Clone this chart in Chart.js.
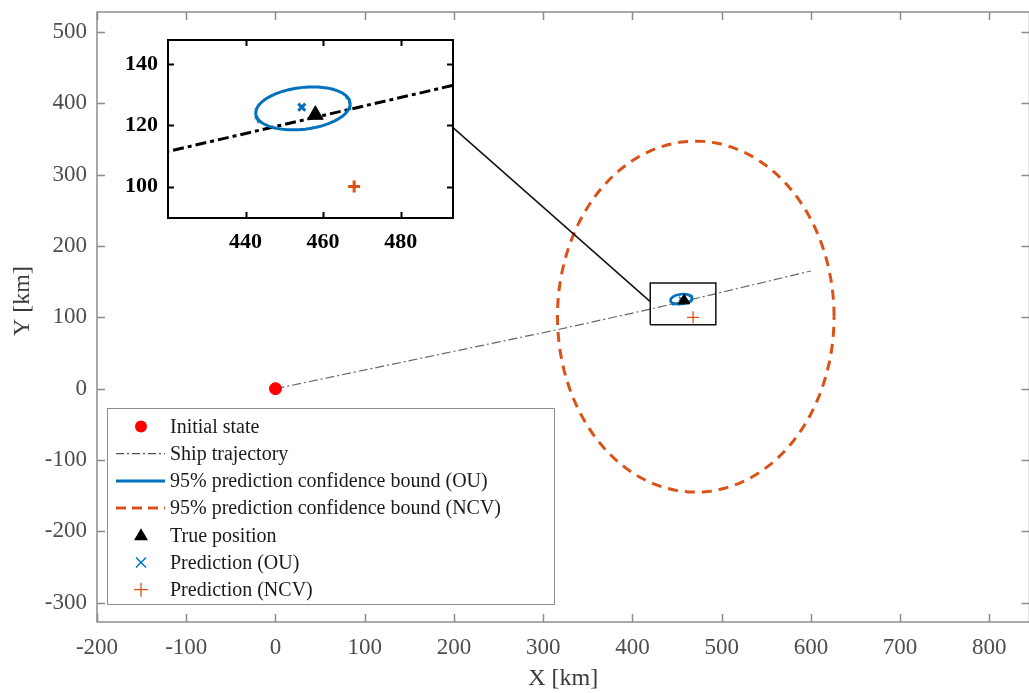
<!DOCTYPE html>
<html>
<head>
<meta charset="utf-8">
<script src="https://cdn.jsdelivr.net/npm/chart.js@4.4.1/dist/chart.umd.min.js"></script>
<style>
  body { margin: 0; background: #fff; overflow: hidden; }
  #wrap { position: relative; width: 1029px; height: 693px; overflow: hidden; }
  #main { position: absolute; left: 0; top: 0; }
  #inset { position: absolute; left: 100px; top: 30px; }
</style>
</head>
<body>
<div id="wrap">
  <!-- a little wider than the window: the right edge of the axes is cut off in the figure -->
  <canvas id="main" width="1037" height="693"></canvas>
  <canvas id="inset" width="370" height="230"></canvas>
</div>
<script>
// data (km)
const initialState = [0, 0];
const trajectoryX = [0, 317, 420, 493, 600];
const trajectoryY = [0, 83, 111.5, 133, 165];
const truePosition = [458, 123.5];
const predictionOU = [454.5, 126];
const predictionNCV = [468, 100];
// ellipse: centre x, centre y, semi-axis x, semi-axis y, tilt (deg)
const ouEllipse = [454.8, 125.6, 12.3, 6.8, 10];
const ncvEllipse = [471, 101, 155, 246, 0];
// zoom window and the line joining it to the inset
const insetXRange = [420, 493.5];
const insetYRange = [89.7, 148];
const connectorX = [198, 420];
const connectorY = [367, 122];

const xTicks = [-200, -100, 0, 100, 200, 300, 400, 500, 600, 700, 800];
const yTicks = [-300, -200, -100, 0, 100, 200, 300, 400, 500];
const insetXTicks = [440, 460, 480];
const insetYTicks = [100, 120, 140];
const legendLabels = [
  "Initial state",
  "Ship trajectory",
  "95% prediction confidence bound (OU)",
  "95% prediction confidence bound (NCV)",
  "True position",
  "Prediction (OU)",
  "Prediction (NCV)"
];

const BLUE = "#0072BD";
const ORANGE = "#D95319";
const SERIF = "'Liberation Serif', 'Times New Roman', serif";

function ellipsePoints(e) {
  const pts = [];
  const a = e[4] * Math.PI / 180;
  for (let i = 0; i <= 120; i++) {
    const t = i / 120 * 2 * Math.PI;
    const dx = e[2] * Math.cos(t), dy = e[3] * Math.sin(t);
    pts.push({ x: e[0] + dx * Math.cos(a) - dy * Math.sin(a), y: e[1] + dx * Math.sin(a) + dy * Math.cos(a) });
  }
  return pts;
}

const trajectory = trajectoryX.map((x, i) => ({ x: x, y: trajectoryY[i] }));
const zoomBox = [
  { x: insetXRange[0], y: insetYRange[0] }, { x: insetXRange[1], y: insetYRange[0] },
  { x: insetXRange[1], y: insetYRange[1] }, { x: insetXRange[0], y: insetYRange[1] },
  { x: insetXRange[0], y: insetYRange[0] }
];
const connector = connectorX.map((x, i) => ({ x: x, y: connectorY[i] }));

// box around the axes with inward ticks on every side
const framePlugin = {
  id: "frame",
  beforeDraw(chart) {
    const a = chart.chartArea, ctx = chart.ctx;
    ctx.save();
    ctx.fillStyle = "#fff";
    ctx.fillRect(a.left, a.top, a.right - a.left, a.bottom - a.top);
    ctx.restore();
  },
  afterDatasetsDraw(chart, args, opts) {
    const a = chart.chartArea, ctx = chart.ctx;
    const xs = chart.scales.x, ys = chart.scales.y;
    ctx.save();
    ctx.strokeStyle = opts.color;
    ctx.lineWidth = opts.width;
    ctx.setLineDash([]);
    ctx.strokeRect(a.left, a.top, a.right - a.left, a.bottom - a.top);
    ctx.beginPath();
    opts.xTicks.forEach(v => {
      const p = Math.round(xs.getPixelForValue(v)) + 0.5;
      ctx.moveTo(p, a.bottom); ctx.lineTo(p, a.bottom - opts.len);
      ctx.moveTo(p, a.top); ctx.lineTo(p, a.top + opts.len);
    });
    opts.yTicks.forEach(v => {
      const p = Math.round(ys.getPixelForValue(v)) + 0.5;
      ctx.moveTo(a.left, p); ctx.lineTo(a.left + opts.len, p);
      ctx.moveTo(a.right, p); ctx.lineTo(a.right - opts.len, p);
    });
    ctx.stroke();
    if (opts.yTitle) {
      ctx.translate(opts.yTitle.x, opts.yTitle.y);
      ctx.rotate(-Math.PI / 2);
      ctx.fillStyle = "#3a3a3a";
      ctx.font = "24px " + SERIF;
      ctx.textAlign = "center";
      ctx.textBaseline = "middle";
      ctx.fillText(opts.yTitle.text, 0, 0);
    }
    ctx.restore();
  }
};

// legend box in the lower left of the main axes
const legendPlugin = {
  id: "boxLegend",
  afterDraw(chart) {
    const ctx = chart.ctx;
    const left = 107, top = 408, right = 554, bottom = 604;
    ctx.save();
    ctx.fillStyle = "#fff";
    ctx.fillRect(left, top, right - left, bottom - top);
    ctx.strokeStyle = "#8c8c8c";
    ctx.lineWidth = 1;
    ctx.strokeRect(left + 0.5, top + 0.5, right - left, bottom - top);
    const sx = 141, l0 = 116, l1 = 165;
    legendLabels.forEach((label, i) => {
      const y = 426.5 + i * 27.2;
      ctx.save();
      if (i === 0) {
        ctx.fillStyle = "#ff0000";
        ctx.beginPath(); ctx.arc(sx, y, 6, 0, 2 * Math.PI); ctx.fill();
      } else if (i === 1) {
        ctx.strokeStyle = "#555"; ctx.lineWidth = 1.2; ctx.setLineDash([8, 3, 2, 3]);
        ctx.beginPath(); ctx.moveTo(l0, y); ctx.lineTo(l1, y); ctx.stroke();
      } else if (i === 2) {
        ctx.strokeStyle = BLUE; ctx.lineWidth = 3;
        ctx.beginPath(); ctx.moveTo(l0, y); ctx.lineTo(l1, y); ctx.stroke();
      } else if (i === 3) {
        ctx.strokeStyle = ORANGE; ctx.lineWidth = 3; ctx.setLineDash([10, 6]);
        ctx.beginPath(); ctx.moveTo(l0, y); ctx.lineTo(l1, y); ctx.stroke();
      } else if (i === 4) {
        ctx.fillStyle = "#000";
        ctx.beginPath(); ctx.moveTo(sx, y - 7); ctx.lineTo(sx + 7, y + 5); ctx.lineTo(sx - 7, y + 5); ctx.closePath(); ctx.fill();
      } else if (i === 5) {
        ctx.strokeStyle = BLUE; ctx.lineWidth = 1.5;
        ctx.beginPath(); ctx.moveTo(sx - 5, y - 5); ctx.lineTo(sx + 5, y + 5); ctx.moveTo(sx + 5, y - 5); ctx.lineTo(sx - 5, y + 5); ctx.stroke();
      } else {
        ctx.strokeStyle = ORANGE; ctx.lineWidth = 1.3;
        ctx.beginPath(); ctx.moveTo(sx - 7, y); ctx.lineTo(sx + 7, y); ctx.moveTo(sx, y - 7); ctx.lineTo(sx, y + 7); ctx.stroke();
      }
      ctx.restore();
      ctx.fillStyle = "#1a1a1a";
      ctx.font = "20px " + SERIF;
      ctx.textBaseline = "middle";
      ctx.fillText(label, 170, y + 1);
    });
    ctx.restore();
  }
};

function fixedTicks(values) {
  return scale => { scale.ticks = values.map(v => ({ value: v })); };
}
// pin the axis boxes so the plot area sits where the figure has it
function fitX(h) {
  return s => { s.height = h; s.paddingLeft = 0; s.paddingRight = 0; };
}
function fitY(w) {
  return s => { s.width = w; s.paddingTop = 0; s.paddingBottom = 0; };
}

new Chart(document.getElementById("main").getContext("2d"), {
  type: "scatter",
  data: {
    datasets: [
      { label: "Zoom window", data: zoomBox, showLine: true, borderColor: "#111", borderWidth: 1.5, pointRadius: 0, order: 1 },
      { label: "Connector", data: connector, showLine: true, borderColor: "#111", borderWidth: 1.5, pointRadius: 0, order: 1 },
      { label: "True position", data: [{ x: truePosition[0], y: truePosition[1] }], pointStyle: "triangle", pointRadius: 6.5, backgroundColor: "#000", borderColor: "#000", order: 2 },
      { label: "Prediction (OU)", data: [{ x: predictionOU[0], y: predictionOU[1] }], pointStyle: "crossRot", pointRadius: 3, borderColor: BLUE, borderWidth: 1.5, order: 3 },
      { label: "Prediction (NCV)", data: [{ x: predictionNCV[0], y: predictionNCV[1] }], pointStyle: "cross", pointRadius: 6, borderColor: ORANGE, borderWidth: 1.3, order: 3 },
      { label: "95% prediction confidence bound (OU)", data: ellipsePoints(ouEllipse), showLine: true, borderColor: BLUE, borderWidth: 2.5, pointRadius: 0, order: 4 },
      { label: "95% prediction confidence bound (NCV)", data: ellipsePoints(ncvEllipse), showLine: true, borderColor: ORANGE, borderWidth: 3, borderDash: [10, 7], pointRadius: 0, order: 4 },
      { label: "Initial state", data: [{ x: initialState[0], y: initialState[1] }], pointStyle: "circle", pointRadius: 6, backgroundColor: "#ff0000", borderColor: "#ff0000", order: 2 },
      { label: "Ship trajectory", data: trajectory, showLine: true, borderColor: "#666", borderWidth: 1.2, borderDash: [9, 3, 2, 3], pointRadius: 0, order: 5 }
    ]
  },
  options: {
    responsive: false,
    animation: false,
    layout: { padding: { top: 12, right: 0, left: 0, bottom: 0 } },
    plugins: {
      legend: { display: false },
      tooltip: { enabled: false },
      frame: { color: "#8c8c8c", width: 1.5, len: 8, xTicks: xTicks, yTicks: yTicks, yTitle: { text: "Y [km]", x: 23, y: 301 } }
    },
    scales: {
      x: {
        type: "linear", min: -200, max: 845,
        afterBuildTicks: fixedTicks(xTicks),
        afterFit: fitX(71),
        grid: { display: false, drawTicks: false }, border: { display: false },
        ticks: { color: "#4d4d4d", font: { family: SERIF, size: 23 }, padding: 12, maxRotation: 0 },
        title: { display: true, text: "X [km]", color: "#3a3a3a", font: { family: SERIF, size: 24 }, padding: { top: 0, bottom: 0 } }
      },
      y: {
        type: "linear", min: -327, max: 528,
        afterBuildTicks: fixedTicks(yTicks),
        afterFit: fitY(97),
        grid: { display: false, drawTicks: false }, border: { display: false },
        ticks: { color: "#4d4d4d", font: { family: SERIF, size: 23 }, padding: 10 }
      }
    }
  },
  plugins: [framePlugin, legendPlugin]
});

// magnified inset
new Chart(document.getElementById("inset").getContext("2d"), {
  type: "scatter",
  data: {
    datasets: [
      { label: "True position", data: [{ x: truePosition[0], y: truePosition[1] }], pointStyle: "triangle", pointRadius: 9, backgroundColor: "#000", borderColor: "#000", order: 1 },
      { label: "Prediction (OU)", data: [{ x: predictionOU[0], y: predictionOU[1] }], pointStyle: "crossRot", pointRadius: 5, borderColor: BLUE, borderWidth: 3, order: 2 },
      { label: "Prediction (NCV)", data: [{ x: predictionNCV[0], y: predictionNCV[1] }], pointStyle: "cross", pointRadius: 6, borderColor: ORANGE, borderWidth: 3, order: 2 },
      { label: "95% prediction confidence bound (OU)", data: ellipsePoints(ouEllipse), showLine: true, borderColor: BLUE, borderWidth: 3, pointRadius: 0, order: 3 },
      { label: "Ship trajectory", data: trajectory, showLine: true, borderColor: "#000", borderWidth: 3, borderDash: [11, 4, 4, 4], pointRadius: 0, order: 4 }
    ]
  },
  options: {
    responsive: false,
    animation: false,
    layout: { padding: { top: 7, right: 17, left: 0, bottom: 0 } },
    plugins: {
      legend: { display: false },
      tooltip: { enabled: false },
      frame: { color: "#000", width: 2, len: 6, xTicks: insetXTicks, yTicks: insetYTicks }
    },
    scales: {
      x: {
        type: "linear", min: insetXRange[0], max: insetXRange[1],
        afterBuildTicks: fixedTicks(insetXTicks),
        afterFit: fitX(42),
        grid: { display: false, drawTicks: false }, border: { display: false },
        ticks: { color: "#000", font: { family: SERIF, size: 22, weight: "bold" }, padding: 11, maxRotation: 0 }
      },
      y: {
        type: "linear", min: insetYRange[0], max: insetYRange[1],
        afterBuildTicks: fixedTicks(insetYTicks),
        afterFit: fitY(68),
        grid: { display: false, drawTicks: false }, border: { display: false },
        ticks: { color: "#000", font: { family: SERIF, size: 22, weight: "bold" }, padding: 10 }
      }
    }
  },
  plugins: [framePlugin]
});
</script>
</body>
</html>
